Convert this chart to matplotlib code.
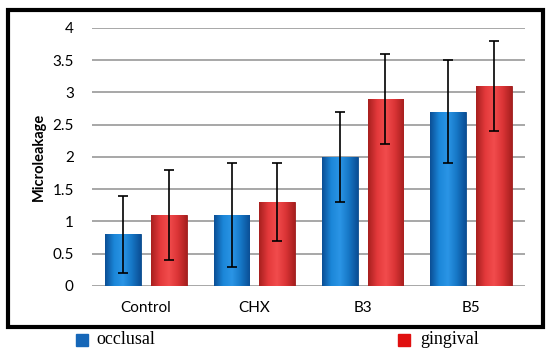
import numpy as np
import matplotlib.pyplot as plt
from matplotlib.patches import Rectangle
from matplotlib.colors import LinearSegmentedColormap

categories = ["Control", "CHX", "B3", "B5"]
occlusal = [0.8, 1.1, 2.0, 2.7]
occlusal_err = [0.6, 0.8, 0.7, 0.8]
gingival = [1.1, 1.3, 2.9, 3.1]
gingival_err = [0.7, 0.6, 0.7, 0.7]

fig = plt.figure(figsize=(5.5, 3.57), dpi=100)
ax = fig.add_axes([0.167, 0.199, 0.788, 0.723])

x = np.arange(len(categories))
width = 0.33
off = 0.21

blue_cm = LinearSegmentedColormap.from_list("b", ["#0b4f96", "#1b86d8", "#2b95e6", "#1677c6", "#0b4f96"])
red_cm = LinearSegmentedColormap.from_list("r", ["#a8201f", "#e3393b", "#f24c4d", "#db3436", "#a8201f"])


def gradient_bars(bars, cmap):
    grad = np.linspace(0, 1, 64).reshape(1, -1)
    for b in bars:
        x0, y0 = b.get_x(), b.get_y()
        w, h = b.get_width(), b.get_height()
        im = ax.imshow(grad, cmap=cmap, aspect="auto", extent=[x0, x0 + w, y0, y0 + h], zorder=2)
        im.set_clip_path(b)


b1 = ax.bar(x - off, occlusal, width, color="#1a7fd0", edgecolor="#0a4a8a", linewidth=0.6, zorder=2)
b2 = ax.bar(x + off, gingival, width, color="#e0383a", edgecolor="#9a1c1c", linewidth=0.6, zorder=2)
gradient_bars(b1, blue_cm)
gradient_bars(b2, red_cm)

ax.errorbar(x - off, occlusal, yerr=occlusal_err, fmt="none", ecolor="black", elinewidth=1.2, capsize=3.5, capthick=1.2, zorder=4)
ax.errorbar(x + off, gingival, yerr=gingival_err, fmt="none", ecolor="black", elinewidth=1.2, capsize=3.5, capthick=1.2, zorder=4)

ax.set_xlim(-0.5, 3.5)
ax.set_ylim(0, 4)
ax.set_yticks(np.arange(0, 4.01, 0.5))
ax.set_yticklabels(["0", "0.5", "1", "1.5", "2", "2.5", "3", "3.5", "4"], fontfamily="Lato", fontsize=11)
ax.set_xticks(x)
ax.set_xticklabels(categories, fontfamily="Lato", fontsize=11)
ax.tick_params(length=0)
ax.tick_params(axis="y", pad=13)
ax.tick_params(axis="x", pad=11)
ax.yaxis.grid(True, color="#a0a0a0", linewidth=1.3)
ax.set_axisbelow(True)
for s in ax.spines.values():
    s.set_visible(False)
ax.set_ylabel("Microleakage", fontfamily="Lato", fontweight="bold", fontsize=10.5, labelpad=5)

fig.patches.append(Rectangle((8 / 550, 30 / 357), 535 / 550, 317 / 357, transform=fig.transFigure,
                             fill=False, edgecolor="black", linewidth=3))

# legend below the box
fig.patches.append(Rectangle((76 / 550, 11 / 357), 12 / 550, 12 / 357, transform=fig.transFigure,
                             color="#1667b8"))
fig.text(96 / 550, 17 / 357, "occlusal", fontfamily="Liberation Serif", fontsize=13, va="center")
fig.patches.append(Rectangle((398 / 550, 11 / 357), 12 / 550, 12 / 357, transform=fig.transFigure,
                             color="#e01010"))
fig.text(420 / 550, 17 / 357, "gingival", fontfamily="Liberation Serif", fontsize=13, va="center")

fig.savefig("out.png", dpi=100)
